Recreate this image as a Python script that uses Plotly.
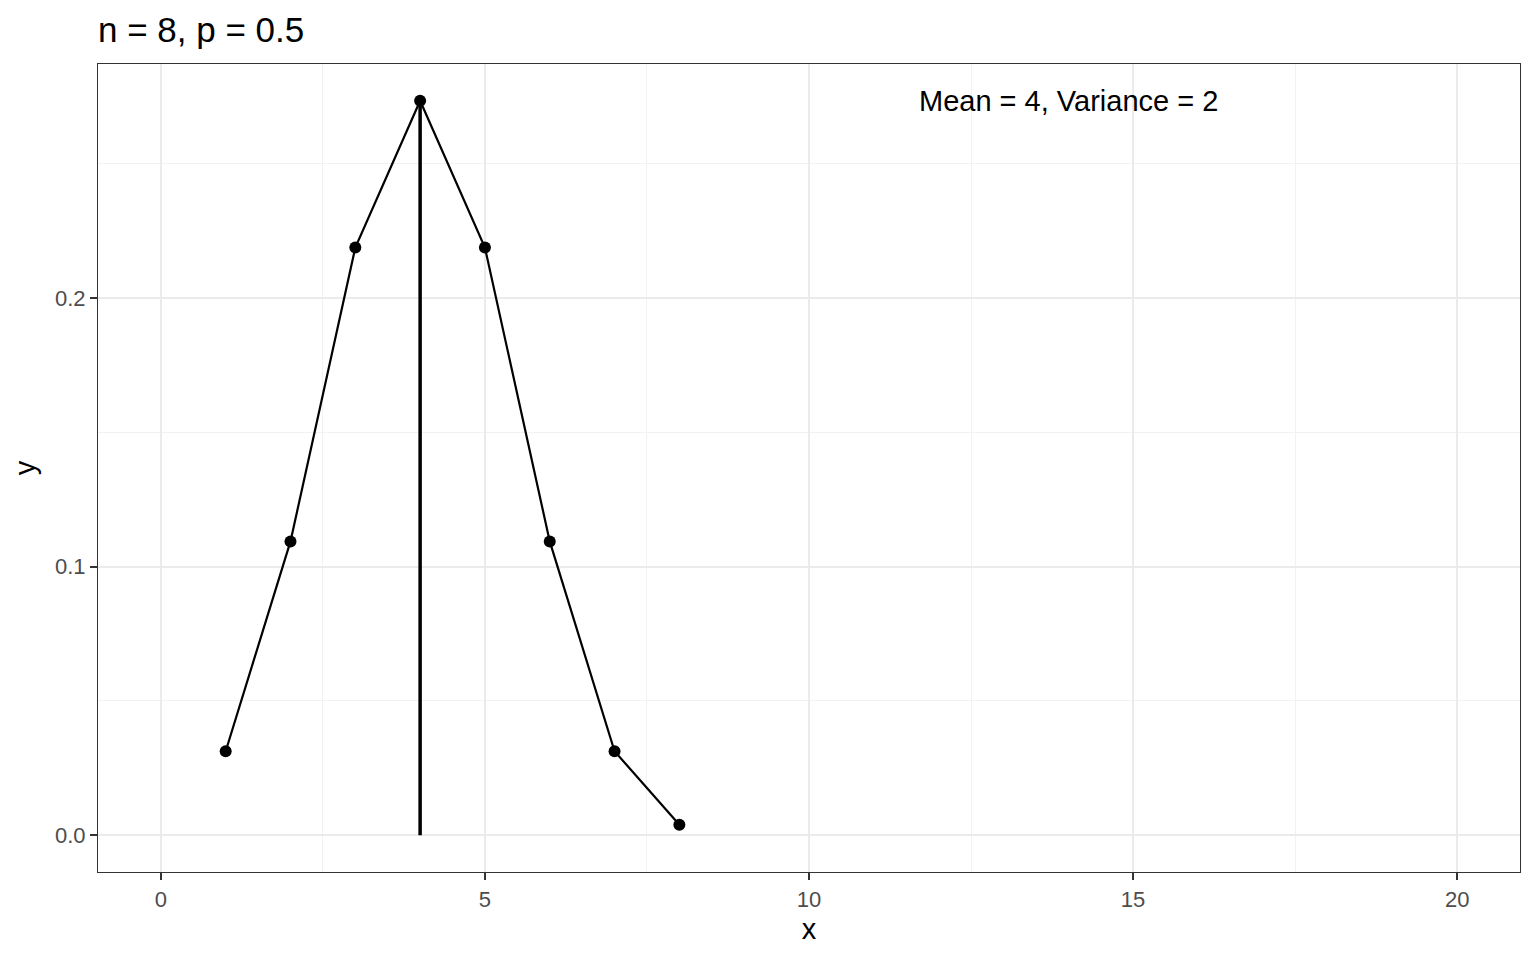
import plotly.graph_objects as go

x_vals = [1, 2, 3, 4, 5, 6, 7, 8]
y_vals = [0.03125, 0.109375, 0.21875, 0.2734375, 0.21875, 0.109375, 0.03125, 0.00390625]
mean_x = 4
mean_y = 0.2734375
title_text = "n = 8, p = 0.5"
label_text = "Mean = 4, Variance = 2"
label_x = 14
x_ticks = [0, 5, 10, 15, 20]
y_ticks = [0.0, 0.1, 0.2]
y_tick_labels = ["0.0", "0.1", "0.2"]

FONT = "Liberation Sans, Arial, sans-serif"
W, H = 1528, 952  # page body has an 8px margin

fig = go.Figure()
fig.add_trace(go.Scatter(x=[mean_x, mean_x], y=[0, mean_y], mode="lines",
                         line=dict(color="black", width=3.5), showlegend=False, hoverinfo="skip"))
fig.add_trace(go.Scatter(x=x_vals, y=y_vals, mode="lines+markers",
                         line=dict(color="black", width=2.2),
                         marker=dict(color="black", size=12), showlegend=False))
fig.add_annotation(x=label_x, y=mean_y, text=label_text, showarrow=False,
                   font=dict(family=FONT, size=29, color="black"),
                   xanchor="center", yanchor="middle")

axis_common = dict(showline=True, linecolor="#333333", linewidth=1.2, mirror=True,
                   ticks="outside", ticklen=7, tickwidth=2, tickcolor="#333333",
                   tickfont=dict(family=FONT, size=22, color="#4D4D4D"),
                   gridcolor="#EBEBEB", gridwidth=2, zeroline=False,
                   title_font=dict(family=FONT, size=29, color="black"))

fig.update_xaxes(range=[-0.97, 20.97], tickvals=x_ticks, title_text="x",
                 minor=dict(tickvals=[2.5, 7.5, 12.5, 17.5], showgrid=True, gridcolor="#F2F2F2", gridwidth=1, ticks=""),
                 title_standoff=8, **axis_common)
fig.update_yaxes(range=[-0.0137, 0.2871], tickvals=y_ticks, ticktext=y_tick_labels, title_text="y",
                 minor=dict(tickvals=[0.05, 0.15, 0.25], showgrid=True, gridcolor="#F2F2F2", gridwidth=1, ticks=""),
                 title_standoff=10, **axis_common)

fig.update_layout(
    width=W, height=H,
    plot_bgcolor="white", paper_bgcolor="white",
    margin=dict(l=90, r=16, t=56, b=88),
    title=dict(text=title_text, x=90/W, xanchor="left", y=1-22/H, yanchor="middle",
               font=dict(family=FONT, size=35, color="black")),
)

fig.write_html("out.html")
